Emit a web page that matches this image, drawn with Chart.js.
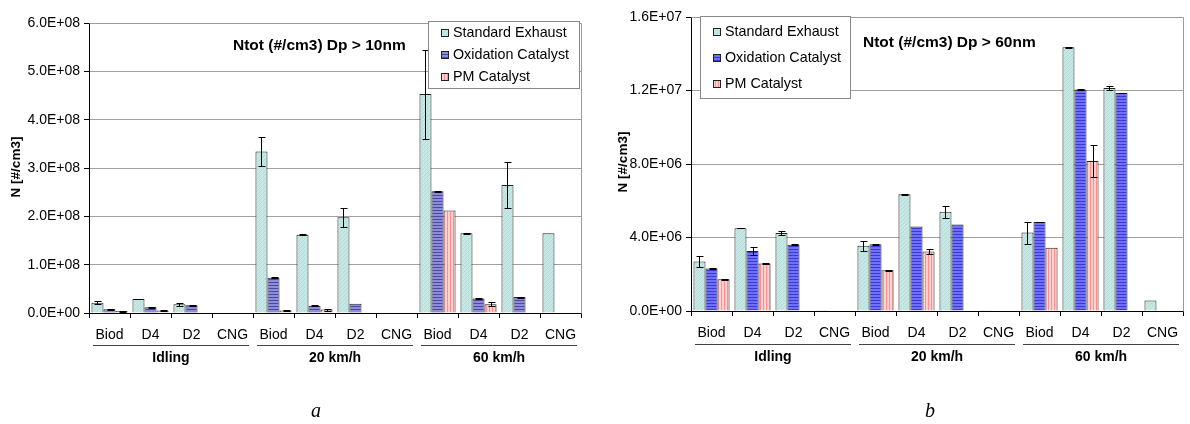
<!DOCTYPE html>
<html>
<head>
<meta charset="utf-8">
<script src="https://cdn.jsdelivr.net/npm/chart.js@4.4.1/dist/chart.umd.min.js"></script>
<style>
html,body{margin:0;padding:0;background:#fff;width:1190px;height:424px;overflow:hidden}
.w{position:absolute;top:0;width:595px;height:424px}
</style>
</head>
<body>
<div class="w" style="left:0"><canvas id="ca" width="595" height="424"></canvas></div>
<div class="w" style="left:595px"><canvas id="cb" width="595" height="424"></canvas></div>
<script>
// ---------- data ----------
const categories = ['Biod','D4','D2','CNG','Biod','D4','D2','CNG','Biod','D4','D2','CNG'];
const groups = ['Idling','20 km/h','60 km/h'];
const seriesNames = ['Standard Exhaust','Oxidation Catalyst','PM Catalyst'];

// chart a: Ntot Dp > 10nm
const aStd  = [2.1e7, 2.9e7, 1.8e7, 1e6, 3.34e8, 1.62e8, 1.98e8, 1e6, 4.53e8, 1.65e8, 2.65e8, 1.65e8];
const aOxid = [8e6, 1.2e7, 1.6e7, null, 7.3e7, 1.5e7, 1.9e7, null, 2.52e8, 3.0e7, 3.3e7, null];
const aPm   = [4e6, 5e6, null, null, 5e6, 7e6, null, null, 2.12e8, 1.8e7, null, null];
const aStdErr  = [3e6, 1e6, 3e6, null, 3e7, 1e6, 2e7, null, 9.2e7, 1e6, 4.7e7, null];
const aOxidErr = [1e6, 1e6, 1e6, null, 1e6, 1e6, null, null, 1e6, 1e6, 1e6, null];
const aPmErr   = [1e6, 1e6, null, null, 1e6, 2e6, null, null, null, 4e6, null, null];
const aTicks = ['0.0E+00','1.0E+08','2.0E+08','3.0E+08','4.0E+08','5.0E+08','6.0E+08'];

// chart b: Ntot Dp > 60nm
const bStd  = [2.69e6, 4.51e6, 4.25e6, 0.04e6, 3.55e6, 6.36e6, 5.4e6, 0.04e6, 4.27e6, 14.36e6, 12.13e6, 0.57e6];
const bOxid = [2.31e6, 3.27e6, 3.6e6, null, 3.63e6, 4.6e6, 4.71e6, null, 4.85e6, 12.05e6, 11.87e6, null];
const bPm   = [1.73e6, 2.58e6, null, null, 2.22e6, 3.24e6, null, null, 3.44e6, 8.16e6, null, null];
const bStdErr  = [0.3e6, 0.02e6, 0.1e6, null, 0.28e6, 0.02e6, 0.33e6, null, 0.6e6, 0.02e6, 0.12e6, null];
const bOxidErr = [0.02e6, 0.23e6, 0.02e6, null, 0.02e6, null, null, null, 0.02e6, 0.02e6, 0.02e6, null];
const bPmErr   = [0.02e6, 0.02e6, null, null, 0.02e6, 0.15e6, null, null, null, 0.86e6, null, null];
const bTicks = ['0.0E+00','4.0E+06','8.0E+06','1.2E+07','1.6E+07'];

// ---------- patterns ----------
function pattern(base, line, type){
  const c = document.createElement('canvas');
  const s = type === 'diag' ? 4 : 3;
  c.width = s; c.height = s;
  const x = c.getContext('2d');
  x.fillStyle = base; x.fillRect(0,0,s,s);
  x.fillStyle = line;
  if (type === 'diag') { for (let i=0;i<s;i++) x.fillRect(i, s-1-i, 1, 1); }
  else if (type === 'h') { x.fillRect(0, 0, s, 1); }
  else { x.fillRect(0, 0, 1, s); }
  return x.createPattern(c, 'repeat');
}
const FONT = "'Liberation Sans', Arial, sans-serif";

const decoPlugin = {
  id: 'deco',
  afterDatasetsDraw(chart, args, o){
    const ctx = chart.ctx, ca = chart.chartArea, ys = chart.scales.y;
    ctx.save();
    // plot border (top/right)
    ctx.strokeStyle = '#9a9a9a'; ctx.lineWidth = 1;
    ctx.beginPath();
    ctx.moveTo(Math.round(ca.left)+0.5, Math.round(ca.top)+0.5);
    ctx.lineTo(Math.round(ca.right)+0.5, Math.round(ca.top)+0.5);
    ctx.lineTo(Math.round(ca.right)+0.5, Math.round(ca.bottom)+0.5);
    ctx.stroke();
    // error bars
    ctx.strokeStyle = '#000';
    o.errs.forEach((errs, di) => {
      const meta = chart.getDatasetMeta(di);
      const vals = chart.data.datasets[di].data;
      errs.forEach((e, j) => {
        if (e == null || vals[j] == null) return;
        const el = meta.data[j];
        const x = Math.round(el.x) + 0.5;
        const y1 = Math.round(ys.getPixelForValue(vals[j] + e)) + 0.5;
        const y2 = Math.round(ys.getPixelForValue(Math.max(0, vals[j] - e))) + 0.5;
        ctx.beginPath();
        ctx.moveTo(x, y1); ctx.lineTo(x, y2);
        ctx.moveTo(x-3, y1); ctx.lineTo(x+4, y1);
        ctx.moveTo(x-3, y2); ctx.lineTo(x+4, y2);
        ctx.stroke();
      });
    });
    ctx.restore();
  },
  afterDraw(chart, args, o){
    const ctx = chart.ctx, ca = chart.chartArea;
    ctx.save();
    ctx.fillStyle = '#000';
    // title
    ctx.font = 'bold 15.5px ' + FONT;
    ctx.textBaseline = 'middle'; ctx.textAlign = 'left';
    ctx.fillText(o.title, o.titleX, o.titleY);
    // y axis title
    ctx.save();
    ctx.translate(o.yTitleX, o.yTitleY);
    ctx.rotate(-Math.PI/2);
    ctx.textAlign = 'center';
    ctx.font = 'bold 13.5px ' + FONT;
    ctx.fillText('N [#/cm3]', 0, 0);
    ctx.restore();
    // group lines and labels
    const step = (ca.right - ca.left) / categories.length;
    groups.forEach((g, i) => {
      const l = ca.left + step * 4 * i + 4, r = ca.left + step * 4 * (i+1) - 4;
      ctx.strokeStyle = '#444'; ctx.lineWidth = 1;
      ctx.beginPath();
      ctx.moveTo(l, o.groupLineY + 0.5); ctx.lineTo(r, o.groupLineY + 0.5);
      ctx.stroke();
      ctx.font = 'bold 14px ' + FONT;
      ctx.textAlign = 'center';
      ctx.fillText(g, (l + r) / 2, o.groupLabelY);
    });
    // legend
    const L = o.legend;
    ctx.fillStyle = '#fff';
    ctx.fillRect(L.x, L.y, L.w, L.h);
    ctx.strokeStyle = '#888';
    ctx.strokeRect(L.x + 0.5, L.y + 0.5, L.w, L.h);
    ctx.font = '14.3px ' + FONT;
    ctx.textAlign = 'left';
    seriesNames.forEach((n, i) => {
      const cy = L.y0 + i * L.dy;
      ctx.fillStyle = chart.data.datasets[i].backgroundColor;
      ctx.fillRect(L.sx, cy - 4, 8, 8);
      ctx.strokeStyle = '#222';
      ctx.strokeRect(L.sx + 0.5, cy - 3.5, 7, 7);
      ctx.fillStyle = '#000';
      ctx.fillText(n, L.tx, cy);
    });
    // panel letter
    ctx.font = 'italic 20px "Liberation Serif", "Times New Roman", serif';
    ctx.textAlign = 'center';
    ctx.textBaseline = 'alphabetic';
    ctx.fillText(o.letter, o.letterX, o.letterY);
    ctx.restore();
  }
};

function makeChart(id, d){
  const ctx = document.getElementById(id).getContext('2d');
  const pStd = pattern('#c6e7e4', '#b2dcd8', 'diag');
  const pOx = pattern(d.oxBase, d.oxLine, 'h');
  const pPm = pattern('#ffd2d2', '#ff8f8f', 'v');
  return new Chart(ctx, {
    type: 'bar',
    data: {
      labels: categories,
      datasets: [
        {label: seriesNames[0], data: d.std, backgroundColor: pStd},
        {label: seriesNames[1], data: d.ox, backgroundColor: pOx},
        {label: seriesNames[2], data: d.pm, backgroundColor: pPm}
      ].map(ds => Object.assign(ds, {borderColor: '#222', borderWidth: 1, categoryPercentage: 0.88, barPercentage: 1}))
    },
    options: {
      responsive: false, animation: false, devicePixelRatio: 1,
      layout: {padding: {top: d.padTop, right: d.padRight, left: 0, bottom: 0}},
      plugins: {
        legend: {display: false}, tooltip: {enabled: false},
        deco: d.deco
      },
      scales: {
        x: {
          offset: true,
          grid: {offset: true, drawOnChartArea: false, drawTicks: true, tickLength: 5, tickColor: '#000'},
          border: {color: '#000', width: 1},
          ticks: {font: {family: FONT, size: 14}, color: '#000', padding: 9, maxRotation: 0, autoSkip: false},
          afterFit: s => { s.height = d.xHeight; }
        },
        y: {
          min: 0, max: d.max,
          ticks: {stepSize: d.step, font: {family: FONT, size: 14}, color: '#000', padding: 4,
                  callback: (v, i) => d.ticks[i]},
          grid: {color: '#a0a0a0', tickLength: 5, tickColor: '#000'},
          border: {color: '#000', width: 1},
          afterFit: s => { s.width = d.yWidth; }
        }
      }
    },
    plugins: [decoPlugin]
  });
}

makeChart('ca', {
  std: aStd, ox: aOxid, pm: aPm, max: 6e8, step: 1e8, ticks: aTicks,
  oxBase: '#8c8cda', oxLine: '#4a4aa0',
  padTop: 23, padRight: 14, xHeight: 111, yWidth: 89,
  deco: {
    errs: [aStdErr, aOxidErr, aPmErr],
    title: 'Ntot (#/cm3) Dp > 10nm', titleX: 233, titleY: 46,
    yTitleX: 16, yTitleY: 167,
    groupLineY: 345, groupLabelY: 358,
    legend: {x: 428, y: 21, w: 151, h: 67, sx: 441, tx: 453, y0: 33, dy: 22},
    letter: 'a', letterX: 316, letterY: 417
  }
});
makeChart('cb', {
  std: bStd, ox: bOxid, pm: bPm, max: 1.6e7, step: 4e6, ticks: bTicks,
  oxBase: '#7070ff', oxLine: '#3a3ad0',
  padTop: 17, padRight: 7, xHeight: 113, yWidth: 96,
  deco: {
    errs: [bStdErr, bOxidErr, bPmErr],
    title: 'Ntot (#/cm3) Dp > 60nm', titleX: 268, titleY: 43,
    yTitleX: 28, yTitleY: 162,
    groupLineY: 344, groupLabelY: 357,
    legend: {x: 105, y: 16, w: 150, h: 82, sx: 118, tx: 130, y0: 32, dy: 26},
    letter: 'b', letterX: 335, letterY: 417
  }
});
</script>
</body>
</html>
